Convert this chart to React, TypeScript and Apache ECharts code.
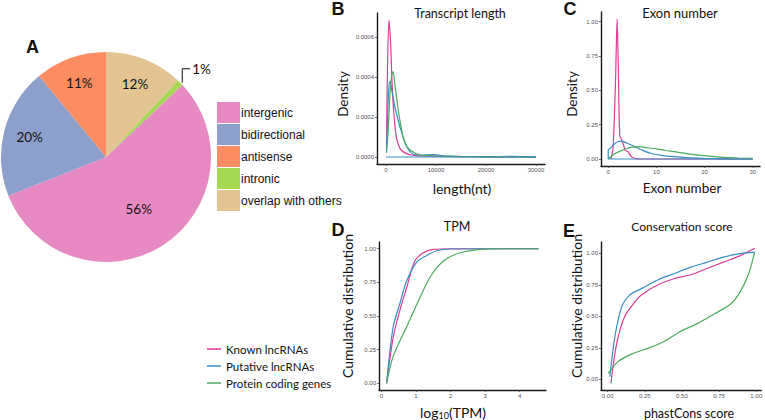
import React, { useEffect, useRef } from "react";
import * as echarts from "echarts";

// ---------- Panel A: pie ----------
const pieCategories = ["overlap with others", "intronic", "intergenic", "bidirectional", "antisense"];
const piePercents = [12, 1, 56, 20, 11];
const pieColors = ["#E5C494", "#A6D854", "#E78AC3", "#8DA0CB", "#FC8D62"];
const pieLegendOrder = ["intergenic", "bidirectional", "antisense", "intronic", "overlap with others"];

// ---------- line series names / colours ----------
const seriesNames = ["Known lncRNAs", "Putative lncRNAs", "Protein coding genes"];
const seriesColors = ["#DE3A96", "#3A8CC3", "#4BAA60"];

// ---------- Panel B: transcript length density ----------
const lenKnown = [[100, 0.00005], [300, 0.00045], [600, 0.000685], [900, 0.00058], [1200, 0.00038], [1500, 0.00024], [2000, 0.00011], [2500, 0.00006], [3000, 0.000035], [4000, 0.000018], [5000, 0.00001], [7000, 0.000006], [10000, 0.000004], [15000, 0.000002], [20000, 0.000001], [25000, 0.0000005], [30000, 0]];
const lenPutative = [[100, 0.00003], [300, 0.00018], [500, 0.00032], [800, 0.00038], [1100, 0.00034], [1800, 0.00025], [2800, 0.00015], [4200, 0.00005], [5400, 0.000015], [7000, 0.00001], [9500, 0.000012], [12000, 0.000005], [20000, 0.000002], [25000, 0.000003], [30000, 0]];
const lenProtein = [[100, 0.00002], [400, 0.00012], [800, 0.00032], [1100, 0.0004], [1400, 0.000427], [1800, 0.00036], [2200, 0.00028], [2800, 0.00018], [3400, 0.0001], [4000, 0.00006], [4800, 0.000035], [5800, 0.00002], [6800, 0.00001], [8000, 0.000008], [10000, 0.000005], [15000, 0.000002], [20000, 0.000001], [30000, 0]];
const lenBaseline = [[0, 0], [30000, 0]];
const lenXTicks = [0, 10000, 20000, 30000];
const lenYTicks = [0, 0.0002, 0.0004, 0.0006];

// ---------- Panel C: exon number density ----------
const exonKnown = [[0.6, 0], [1.0, 0.08], [1.5, 0.55], [1.85, 1.02], [2.15, 0.55], [2.4, 0.17], [2.8, 0.14], [3.2, 0.1], [3.5, 0.065], [4.1, 0.053], [4.8, 0.017], [5.5, 0.005], [7, 0], [30, 0]];
const exonPutative = [[0, 0], [0, 0.065], [0.5, 0.08], [1, 0.1], [1.5, 0.115], [2, 0.125], [2.5, 0.13], [3, 0.128], [4, 0.115], [5.5, 0.09], [7, 0.065], [8.9, 0.04], [11, 0.027], [13.7, 0.017], [17, 0.008], [20, 0.004], [25, 0.001], [30, 0]];
const exonProtein = [[0, 0], [0.5, 0.015], [1, 0.03], [2, 0.05], [3, 0.065], [4, 0.078], [5, 0.086], [6, 0.09], [7, 0.088], [8.5, 0.08], [10.2, 0.072], [12, 0.062], [13.7, 0.053], [17, 0.036], [20.4, 0.022], [23.9, 0.012], [27, 0.007], [30, 0.004]];
const exonBaseline = [[0, 0], [30, 0]];
const exonXTicks = [0, 10, 20, 30];
const unitTicks = [0, 0.25, 0.5, 0.75, 1];

// ---------- Panel D: TPM cumulative ----------
const tpmKnown = [[0.15, 0], [0.34, 0.34], [0.53, 0.54], [0.73, 0.71], [0.97, 0.91], [1.21, 0.97], [1.5, 0.995], [2, 1.0], [3, 1.0], [4.54, 1.0]];
const tpmPutative = [[0.15, 0], [0.34, 0.42], [0.53, 0.59], [0.73, 0.76], [1.02, 0.9], [1.31, 0.95], [1.6, 0.985], [2, 0.998], [3, 1.0], [4.54, 1.0]];
const tpmProtein = [[0.15, 0], [0.34, 0.2], [0.73, 0.42], [1.12, 0.64], [1.41, 0.79], [1.8, 0.91], [2.28, 0.97], [2.87, 0.995], [3.5, 1.0], [4.54, 1.0]];
const tpmXTicks = [0, 1, 2, 3, 4];

// ---------- Panel E: conservation cumulative ----------
const consKnown = [[0.022, -0.03], [0.06, 0.28], [0.115, 0.5], [0.18, 0.61], [0.227, 0.67], [0.34, 0.75], [0.45, 0.8], [0.56, 0.83], [0.67, 0.88], [0.78, 0.93], [0.89, 0.98], [0.99, 1.04]];
const consPutative = [[0.015, 0.02], [0.049, 0.34], [0.093, 0.57], [0.149, 0.67], [0.227, 0.72], [0.34, 0.79], [0.45, 0.84], [0.56, 0.89], [0.67, 0.93], [0.78, 0.97], [0.89, 0.997], [0.99, 1.01]];
const consProtein = [[0.004, 0.047], [0.07, 0.14], [0.16, 0.2], [0.27, 0.245], [0.38, 0.3], [0.49, 0.38], [0.6, 0.44], [0.72, 0.52], [0.83, 0.6], [0.89, 0.69], [0.95, 0.84], [0.99, 1.01]];
const consXTicks = [0, 0.25, 0.5, 0.75, 1];

const pieCenter = [106, 157];

function axis(gridIndex: number, min: number, max: number, ticks: number[], fmt: (v: number) => string) {
  return {
    type: "value",
    gridIndex,
    min,
    max,
    axisLine: { show: true, onZero: false, lineStyle: { color: "#1a1a1a", width: 1.4 } },
    axisTick: { show: true, length: 2, customValues: ticks, lineStyle: { color: "#444", width: 0.8 } },
    axisLabel: { customValues: ticks, formatter: fmt, fontSize: 6, color: "#555", margin: 3, fontFamily: "Liberation Sans" },
    splitLine: { show: false },
  };
}

function lines(idx: number, sets: number[][][]) {
  return sets.map((d, i) => ({
    type: "line",
    name: seriesNames[i],
    xAxisIndex: idx,
    yAxisIndex: idx,
    data: d,
    symbol: "none",
    showSymbol: false,
    smooth: 0.3,
    color: seriesColors[i],
    lineStyle: { color: seriesColors[i], width: 1.2 },
    silent: true,
  }));
}

function baseline(idx: number, d: number[][]) {
  return {
    type: "line",
    name: "baseline" + idx,
    xAxisIndex: idx,
    yAxisIndex: idx,
    data: d,
    symbol: "none",
    color: seriesColors[1],
    lineStyle: { color: seriesColors[1], width: 1.2 },
    silent: true,
  };
}

function txt(text: string, x: number, y: number, size: number, opts: any = {}) {
  return {
    type: "text",
    x,
    y,
    rotation: opts.rotate ? Math.PI / 2 : 0,
    style: {
      text,
      fontSize: size,
      fontFamily: opts.family || "Lato",
      fontWeight: opts.bold ? "bold" : "normal",
      fill: "#111",
      align: "center",
      verticalAlign: "middle",
      ...(opts.rich ? { rich: opts.rich } : {}),
    },
    silent: true,
  };
}

export default function App() {
  const ref = useRef<HTMLDivElement>(null);
  useEffect(() => {
    const chart = echarts.init(ref.current!, null, { renderer: "svg" });
    const fmt4 = (v: number) => v.toFixed(4);
    const fmt2 = (v: number) => v.toFixed(2);
    const fmt0 = (v: number) => String(v);

    const option: any = {
      animation: false,
      backgroundColor: "#ffffff",
      textStyle: { fontFamily: "Lato" },
      grid: [
        { left: 377, top: 13, width: 168, height: 151 },
        { left: 601, top: 12, width: 159, height: 154 },
        { left: 379, top: 242, width: 167, height: 148 },
        { left: 601, top: 242, width: 162, height: 148 },
      ],
      xAxis: [
        axis(0, -1800, 31800, lenXTicks, fmt0),
        axis(1, -1.5, 31.5, exonXTicks, fmt0),
        axis(2, -0.07, 4.76, tpmXTicks, fmt0),
        axis(3, -0.045, 1.035, consXTicks, fmt2),
      ],
      yAxis: [
        axis(0, -0.000035, 0.00072, lenYTicks, fmt4),
        axis(1, -0.051, 1.07, unitTicks, fmt2),
        axis(2, -0.05, 1.05, unitTicks, fmt2),
        axis(3, -0.085, 1.09, unitTicks, fmt2),
      ],
      legend: [
        {
          data: pieLegendOrder,
          orient: "vertical",
          left: 217,
          top: 102,
          icon: "rect",
          itemWidth: 23,
          itemHeight: 21,
          itemGap: 1,
          padding: 0,
          selectedMode: false,
          textStyle: { fontFamily: "Liberation Sans", fontSize: 12, color: "#111", padding: [0, 0, 0, -4] },
        },
        {
          data: seriesNames,
          orient: "vertical",
          left: 207,
          top: 342,
          icon: "rect",
          itemWidth: 14,
          itemHeight: 1.5,
          itemGap: 3,
          padding: 0,
          selectedMode: false,
          textStyle: { fontFamily: "Lato", fontSize: 11.5, color: "#111", lineHeight: 14 },
        },
      ],
      series: [
        {
          type: "pie",
          center: pieCenter,
          radius: 105,
          startAngle: 90,
          clockwise: true,
          avoidLabelOverlap: false,
          silent: true,
          data: pieCategories.map((n, i) => ({
            name: n,
            value: piePercents[i],
            itemStyle: { color: pieColors[i] },
            ...(i === 1 ? { label: { position: "outside" }, labelLine: { show: true, length: 10, length2: 6 } } : {}),
          })),
          label: { show: true, position: "inside", formatter: "{c}%", fontFamily: "Lato", fontSize: 13.5, color: "#111" },
          labelLine: { show: false, lineStyle: { color: "#111", width: 1 } },
          labelLayout: (p: any) => {
            if (p.dataIndex === 1) {
              const pts = p.labelLinePoints;
              if (!pts) return {};
              const p0 = pts[0];
              return {
                x: p0[0] + 12,
                y: p0[1] - 14,
                align: "left",
                verticalAlign: "middle",
                labelLinePoints: [
                  [p0[0] + 2, p0[1]],
                  [p0[0] + 2, p0[1] - 14],
                  [p0[0] + 10, p0[1] - 14],
                ],
              };
            }
            const r = p.labelRect;
            const cx = r.x + r.width / 2;
            const cy = r.y + r.height / 2;
            const k = p.dataIndex === 2 ? 1.1 : 1.42;
            return { x: pieCenter[0] + (cx - pieCenter[0]) * k, y: pieCenter[1] + (cy - pieCenter[1]) * k };
          },
        },
        ...lines(0, [lenKnown, lenPutative, lenProtein]),
        baseline(0, lenBaseline),
        ...lines(1, [exonKnown, exonPutative, exonProtein]),
        baseline(1, exonBaseline),
        ...lines(2, [tpmKnown, tpmPutative, tpmProtein]),
        ...lines(3, [consKnown, consPutative, consProtein]),
      ],
      graphic: [
        txt("A", 32.5, 47, 18, { bold: true, family: "Liberation Sans" }),
        txt("B", 338, 9, 18, { bold: true, family: "Liberation Sans" }),
        txt("C", 570, 9, 18, { bold: true, family: "Liberation Sans" }),
        txt("D", 338, 230, 18, { bold: true, family: "Liberation Sans" }),
        txt("E", 569, 231, 18, { bold: true, family: "Liberation Sans" }),
        txt("Transcript length", 460, 13, 12.5),
        txt("Exon number", 680, 13, 13),
        txt("TPM", 457, 226, 12.5),
        txt("Conservation score", 682, 226, 12),
        txt("length(nt)", 462, 188, 14),
        txt("Exon number", 682, 188, 13.5),
        txt("{a|log}{b|10}{a|(TPM)}", 453, 412, 14, {
          rich: { a: { fontSize: 14, fontFamily: "Lato", fill: "#111" }, b: { fontSize: 9, fontFamily: "Lato", fill: "#111", padding: [7, 0, 0, 0] } },
        }),
        txt("phastCons score", 689, 413, 12.5),
        txt("Density", 343, 94, 13.5, { rotate: true }),
        txt("Density", 572, 94, 13.5, { rotate: true }),
        txt("Cumulative distribution", 347, 306, 14, { rotate: true }),
        txt("Cumulative distribution", 576, 306, 14, { rotate: true }),
      ],
    };
    chart.setOption(option);
    return () => chart.dispose();
  }, []);
  return <div ref={ref} style={{ position: "absolute", left: 0, top: 0, width: 765, height: 420 }} />;
}
